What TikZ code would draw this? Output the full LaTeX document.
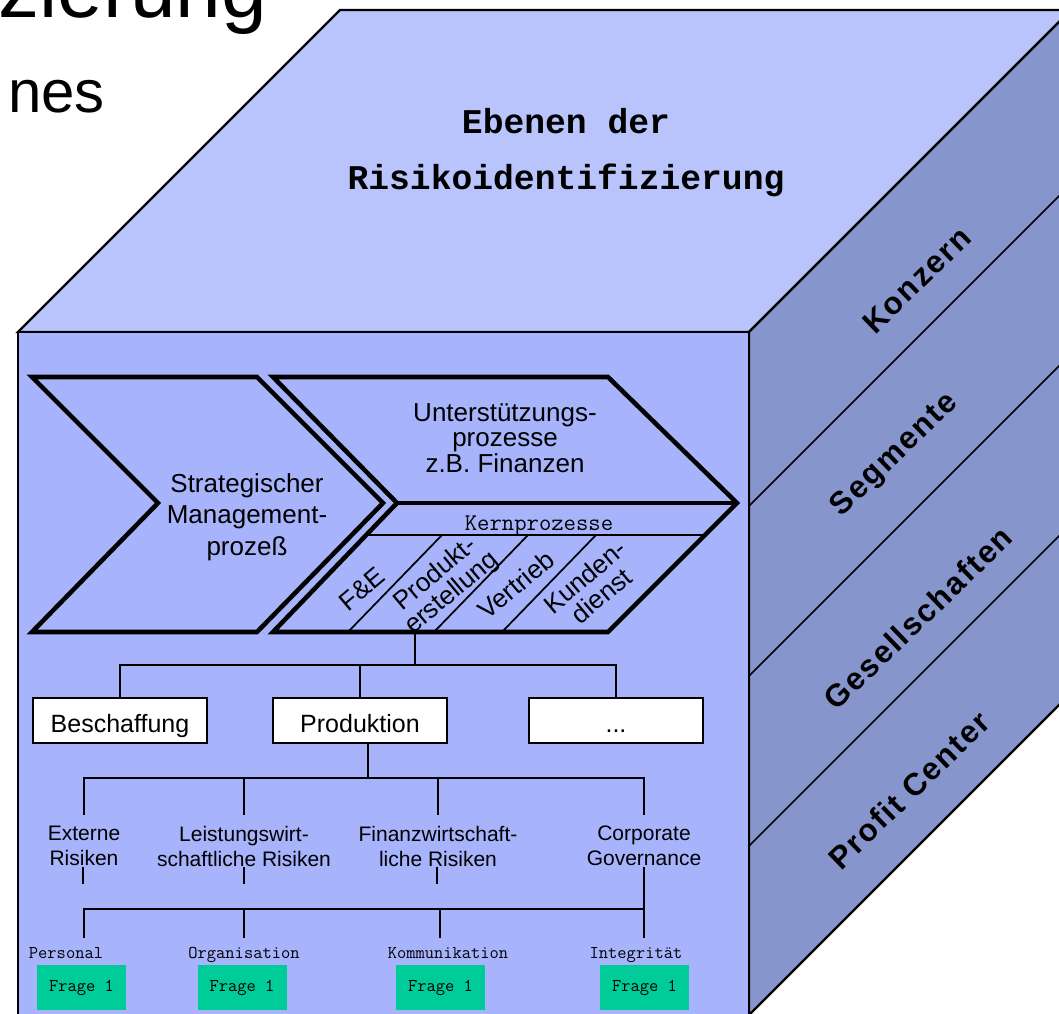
\documentclass[tikz,border=0pt]{standalone}
\usepackage{fontspec}
\setmainfont{Liberation Sans}
\newfontfamily\titlemono{Liberation Mono}
\newfontfamily\facefont[LetterSpace=6]{Liberation Sans}
\definecolor{topcol}{RGB}{185,196,252}
\definecolor{frontcol}{RGB}{167,180,252}
\definecolor{sidecol}{RGB}{135,149,205}
\definecolor{fragecol}{RGB}{0,204,153}
\tikzset{
  face/.style={draw=black, line width=1.7pt, line join=miter},
  stripe/.style={draw=black, line width=1.1pt},
  chev/.style={draw=black, line width=3.4pt, line join=miter},
  chevbar/.style={draw=black, line width=3.4pt},
  thinline/.style={draw=black, line width=1.3pt},
  tree/.style={draw=black, line width=1.9pt},
  sidelabel/.style={rotate=44, inner sep=0, font=\facefont\bfseries\fontsize{23.5}{26}\selectfont},
  titletext/.style={inner sep=0, font=\titlemono\bfseries\fontsize{26}{30}\selectfont},
  cell/.style={rotate=40, align=center, inner sep=0, font=\fontsize{19.5}{18.75}\selectfont},
  unitbox/.style={draw=black, line width=1.9pt, fill=white, minimum width=130.5pt,
    minimum height=33.75pt, inner sep=0, text height=17.25pt, text depth=0pt,
    font=\fontsize{18.75}{22}\selectfont},
  risk/.style={align=center, inner sep=0, font=\fontsize{15.75}{18.75}\selectfont},
  topic/.style={anchor=base, inner sep=0, font=\ttfamily\fontsize{13.5}{16}\selectfont},
  frage/.style={fill=fragecol, minimum width=66.75pt, minimum height=33.75pt, inner sep=0,
    font=\ttfamily\fontsize{13.5}{16}\selectfont}
}
\begin{document}
\begin{tikzpicture}[x=0.75pt,y=-0.75pt]
\useasboundingbox (0,0) rectangle (1059,1013);
\clip (0,0) rectangle (1059,1013);

% slide heading behind the cube
\node[anchor=base west, inner sep=0, font=\fontsize{61.5}{70}\selectfont] (headA) at (-2,18) {zierung};
\node[anchor=base west, inner sep=0, font=\fontsize{45}{54}\selectfont] (headB) at (8,113) {nes};

% cube corners
\coordinate (A) at (18,332);
\coordinate (B) at (749,332);
\coordinate (C) at (749,1015);
\coordinate (D) at (18,1015);
\coordinate (E) at (340,10);
\coordinate (F) at (1071,10);
\coordinate (G) at (1071,693);

% faces
\filldraw[face, fill=topcol] (A) -- (E) -- (F) -- (B) -- cycle;
\filldraw[face, fill=sidecol] (B) -- (F) -- (G) -- (C) -- cycle;
\filldraw[face, fill=frontcol] (A) -- (B) -- (C) -- (D) -- cycle;

% layers on the side face
\draw[stripe] (749,506) -- ++(322,-322);
\draw[stripe] (749,676) -- ++(322,-322);
\draw[stripe] (749,846) -- ++(322,-322);
\node[sidelabel] (konzern) at (917,280) {Konzern};
\node[sidelabel] (segmente) at (895,455) {Segmente};
\node[sidelabel] (gesell) at (918,618) {Gesellschaften};
\node[sidelabel] (profit) at (909,790) {Profit Center};

% title on the top face
\node[titletext, anchor=base] (title1) at (566,133) {Ebenen der};
\node[titletext, anchor=base] (title2) at (566,190) {Risikoidentifizierung};

% core process cells
\draw[thinline] (366,535) -- (705,535);
\draw[thinline] (348,632) -- (442,535);
\draw[thinline] (434,632) -- (528,535);
\draw[thinline] (502,632) -- (596,535);

% process chevrons
\draw[chev] (32,377) -- (257,377) -- (383,503) -- (257,632) -- (32,632) -- (158,503) -- cycle;
\draw[chev] (273,377) -- (608,377) -- (737,503) -- (608,632) -- (273,632) -- (397,503) -- cycle;
\draw[chevbar] (397,503) -- (737,503);

\node[align=center, inner sep=0, font=\fontsize{19.5}{23.6}\selectfont] (strat) at (247,517)
  {Strategischer\\Management-\\prozeß};
\node[align=center, inner sep=0, font=\fontsize{19.5}{19.1}\selectfont] (unter) at (505,438)
  {Unterstützungs-\\prozesse\\z.B. Finanzen};
\node[anchor=base, inner sep=0, font=\ttfamily\fontsize{18}{20}\selectfont] (kern) at (539,530) {Kernprozesse};

\node[cell] (fe) at (362,589) {F\&E};
\node[cell] (prodx) at (444,584) {Produkt-\\erstellung};
\node[cell] (vertrieb) at (516,585) {Vertrieb};
\node[cell] (kunden) at (593,586) {Kunden-\\dienst};

% tree levels
\coordinate (kb) at (415,632);
\coordinate (lv1) at (0,665);
\coordinate (lv2) at (0,778);
\coordinate (lv2e) at (0,815);
\coordinate (tk1) at (0,867);
\coordinate (tk2) at (0,884);
\coordinate (lv3) at (0,909);
\coordinate (lv3e) at (0,938);

\node[unitbox] (besch) at (120,720.5) {Beschaffung};
\node[unitbox] (prod) at (360,720.5) {Produktion};
\node[unitbox] (more) at (616,720.5) {...};

\draw[tree] (kb) -- (kb |- lv1);
\draw[tree] (besch.north) -- (besch.north |- lv1) -| (more.north);
\draw[tree] (prod.north) -- (prod.north |- lv1);

\node[risk] (r1) at (84,846) {Externe\\Risiken};
\node[risk] (r2) at (244,846) {Leistungswirt-\\schaftliche Risiken};
\node[risk] (r3) at (438,846) {Finanzwirtschaft-\\liche Risiken};
\node[risk] (r4) at (644,846) {Corporate\\Governance};

\coordinate (pd) at ([xshift=6pt]prod.south);
\draw[tree] (pd) -- (pd |- lv2);
\draw[tree] (r1 |- lv2e) -- (r1 |- lv2) -- (r4 |- lv2) -- (r4 |- lv2e);
\draw[tree] (r2 |- lv2) -- (r2 |- lv2e);
\draw[tree] (r3 |- lv2) -- (r3 |- lv2e);
\draw[tree] ([xshift=-0.75pt]r1 |- tk1) -- ([xshift=-0.75pt]r1 |- tk2);
\draw[tree] (r2 |- tk1) -- (r2 |- tk2);
\draw[tree] ([xshift=-0.75pt]r3 |- tk1) -- ([xshift=-0.75pt]r3 |- tk2);

\node[topic] (t1) at (66,958) {Personal};
\node[topic] (t2) at (244,958) {Organisation};
\node[topic] (t3) at (448,958) {Kommunikation};
\node[topic] (t4) at (636,958) {Integrität};

\node[frage] (f1) at (81.5,987.5) {Frage 1};
\node[frage] (f2) at (242,987.5) {Frage 1};
\node[frage] (f3) at (440.5,987.5) {Frage 1};
\node[frage] (f4) at (644.5,987.5) {Frage 1};

\draw[tree] (r4 |- tk1) -- (r4 |- lv3e);
\draw[tree] (r1 |- lv3e) -- (r1 |- lv3) -- (r4 |- lv3);
\draw[tree] (r2 |- lv3) -- (r2 |- lv3e);
\draw[tree] ([xshift=1.5pt]r3 |- lv3) -- ([xshift=1.5pt]r3 |- lv3e);
\end{tikzpicture}
\end{document}
